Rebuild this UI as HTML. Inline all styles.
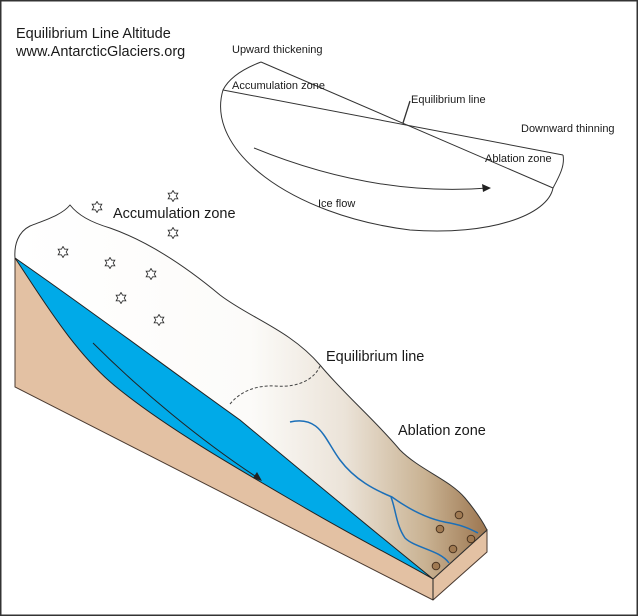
<!DOCTYPE html>
<html><head><meta charset="utf-8"><style>
html,body{margin:0;padding:0;background:#fff}
svg{display:block}
text{font-family:"Liberation Sans",sans-serif;fill:#1a1a1a}
</style></head><body>
<svg width="638" height="616" viewBox="0 0 638 616" xmlns="http://www.w3.org/2000/svg">
<defs>
<linearGradient id="ice" x1="0" y1="0" x2="1" y2="0" gradientUnits="objectBoundingBox">
<stop offset="0" stop-color="#ffffff"/>
<stop offset="0.5" stop-color="#fcfbf9"/>
<stop offset="0.7" stop-color="#ebe3d8"/>
<stop offset="0.87" stop-color="#c9b292"/>
<stop offset="1" stop-color="#9c7650"/>
</linearGradient>
<symbol id="st" viewBox="-6 -6 12 12">
<path d="M0,-5.5 L1.6,-2.8 L4.8,-2.8 L3.2,0 L4.8,2.8 L1.6,2.8 L0,5.5 L-1.6,2.8 L-4.8,2.8 L-3.2,0 L-4.8,-2.8 L-1.6,-2.8 Z" fill="#fff" stroke="#333" stroke-width="0.9"/>
</symbol>
</defs>
<rect x="0.75" y="0.75" width="636.5" height="614.5" fill="#fff" stroke="#333" stroke-width="1.5"/>

<text x="16" y="38" font-size="14.5">Equilibrium Line Altitude</text>
<text x="16" y="56" font-size="14.5">www.AntarcticGlaciers.org</text>

<g fill="none" stroke="#333" stroke-width="1">
<path d="M261,62 C240,70 228,80 223,90 C205,150 290,215 410,230 C490,236 548,215 553,188 C560,175 565,165 563,155"/>
<line x1="261" y1="62" x2="553" y2="188"/>
<line x1="223" y1="90" x2="563" y2="155"/>
<line x1="403" y1="123" x2="410" y2="101" stroke-width="1.3"/>
<path d="M254,148 C320,175 400,195 488,188"/>
</g>
<path d="M491,188 L482,184 L483,192 Z" fill="#222"/>
<text x="232" y="53" font-size="11">Upward thickening</text>
<text x="232" y="89" font-size="11">Accumulation zone</text>
<text x="411" y="103" font-size="11">Equilibrium line</text>
<text x="521" y="132" font-size="11">Downward thinning</text>
<text x="485" y="162" font-size="11">Ablation zone</text>
<text x="318" y="207" font-size="11">Ice flow</text>

<path d="M15,258 L15,387 L433,600 L487,552 L487,530 L433,579 Z" fill="#e3c1a3" stroke="#4a3a30" stroke-width="1"/>
<line x1="433" y1="579" x2="433" y2="600" stroke="#222" stroke-width="1"/>
<line x1="433" y1="579" x2="487" y2="530" stroke="#222" stroke-width="1"/>
<path d="M15,258 C14,245 18,232 30,226 C45,220 62,215 70,205 C78,215 90,222 110,228 C150,242 190,270 220,295 C250,318 290,330 320,365 C345,395 375,420 400,450 C420,470 450,480 465,498 C475,510 482,520 487,530 L433,579 Z" fill="url(#ice)" stroke="#333" stroke-width="1"/>
<path d="M15,258 C40,295 75,355 120,390 C170,430 240,470 300,505 C360,540 400,560 433,579 C360,520 300,470 240,420 C170,370 90,310 15,258 Z" fill="#00aae8" stroke="#222" stroke-width="1"/>
<path d="M93,343 C140,390 200,440 258,478" fill="none" stroke="#222" stroke-width="1"/>
<path d="M262,481 L253,478 L257,472 Z" fill="#222"/>

<path d="M230,404 C240,392 255,385 275,386 C300,388 315,378 320,366" fill="none" stroke="#444" stroke-width="1" stroke-dasharray="3,2"/>

<g fill="none" stroke="#1b6fb8" stroke-width="1.5">
<path d="M290,422 C320,415 325,440 340,460 C355,480 375,490 392,497 C410,510 430,520 450,523 C465,526 472,530 478,533"/>
<path d="M391,497 C396,510 396,525 405,538 C415,548 440,550 449,563"/>
</g>
<g fill="#a07a52" stroke="#4a3420" stroke-width="1">
<circle cx="459" cy="515" r="3.8"/>
<circle cx="440" cy="529" r="3.8"/>
<circle cx="471" cy="539" r="3.8"/>
<circle cx="453" cy="549" r="3.8"/>
<circle cx="436" cy="566" r="3.8"/>
</g>

<use href="#st" x="91" y="201" width="12" height="12"/>
<use href="#st" x="167" y="190" width="12" height="12"/>
<use href="#st" x="167" y="227" width="12" height="12"/>
<use href="#st" x="57" y="246" width="12" height="12"/>
<use href="#st" x="104" y="257" width="12" height="12"/>
<use href="#st" x="145" y="268" width="12" height="12"/>
<use href="#st" x="115" y="292" width="12" height="12"/>
<use href="#st" x="153" y="314" width="12" height="12"/>

<text x="113" y="218" font-size="14.5">Accumulation zone</text>
<text x="326" y="361" font-size="14.5">Equilibrium line</text>
<text x="398" y="435" font-size="14.5">Ablation zone</text>
</svg>
</body></html>
